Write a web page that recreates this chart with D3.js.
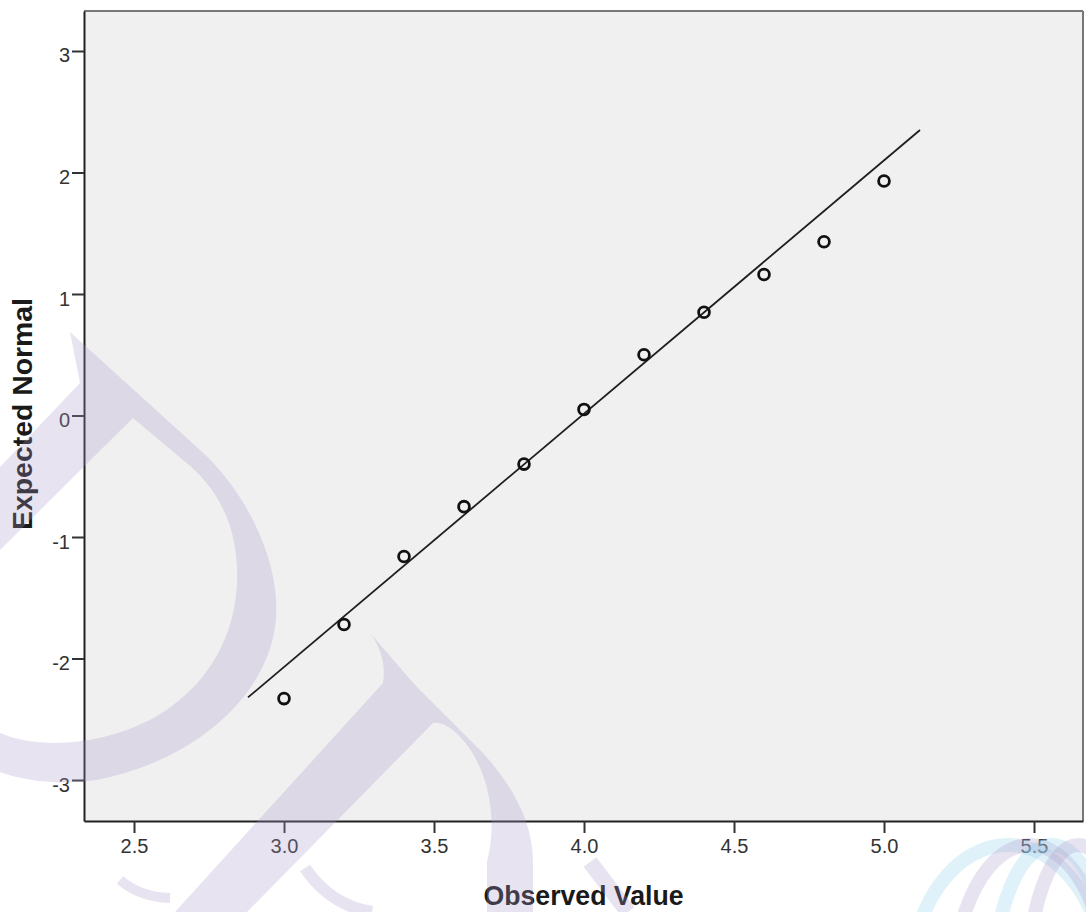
<!DOCTYPE html>
<html>
<head>
<meta charset="utf-8">
<script src="https://cdn.jsdelivr.net/npm/d3@7"></script>
<style>
  body { margin: 0; background: #ffffff; }
  svg { display: block; }
  .tickLabel { font-family: "Liberation Sans", Arial, sans-serif; font-size: 20px; fill: #333333; }
  .axisTitle { font-family: "Liberation Sans", Arial, sans-serif; font-size: 27px; font-weight: bold; fill: #1a1a1a; }
</style>
</head>
<body>
<div id="chart"></div>
<script>
//Normal Q-Q plot, SPSS style, drawn with D3
(function(){

  //pseudo-global data arrays
  var observedValues = [3.0, 3.2, 3.4, 3.6, 3.8, 4.0, 4.2, 4.4, 4.6, 4.8, 5.0]; // x of each point
  var expectedNormal = [-2.33, -1.72, -1.16, -0.75, -0.40, 0.05, 0.50, 0.85, 1.16, 1.43, 1.93]; // y of each point
  var refLineX = [2.88, 5.12]; // ends of the reference line
  var refLineY = [-2.32, 2.35];
  var xTicks = [2.5, 3.0, 3.5, 4.0, 4.5, 5.0, 5.5];
  var yTicks = [-3, -2, -1, 0, 1, 2, 3];
  var xDomain = [2.3333, 5.6633];
  var yDomain = [-3.3374, 3.3292];
  var xTitle = "Observed Value";
  var yTitle = "Expected Normal";

  window.onload = drawChart();

  function drawChart(){
    var width = 1086,
        height = 912;

    //plot frame
    var left = 84, right = 1083, top = 11, bottom = 821;

    var svg = d3.select("#chart")
      .append("svg")
      .attr("width", width)
      .attr("height", height);

    var x = d3.scaleLinear().domain(xDomain).range([left, right]);
    var y = d3.scaleLinear().domain(yDomain).range([bottom, top]);

    //plot background
    svg.append("rect")
      .attr("x", left)
      .attr("y", top)
      .attr("width", right - left)
      .attr("height", bottom - top)
      .attr("fill", "#f0f0f0");

    //frame: top and right lighter, left and bottom dark
    svg.append("line").attr("x1", left).attr("x2", right).attr("y1", top).attr("y2", top)
      .attr("stroke", "#777").attr("stroke-width", 2);
    svg.append("line").attr("x1", right).attr("x2", right).attr("y1", top).attr("y2", bottom)
      .attr("stroke", "#777").attr("stroke-width", 2);

    //x axis
    var xAxis = d3.axisBottom(x)
      .tickValues(xTicks)
      .tickFormat(d3.format(".1f"))
      .tickSizeInner(12)
      .tickSizeOuter(0)
      .tickPadding(6);
    var gx = svg.append("g")
      .attr("transform", "translate(0," + bottom + ")")
      .call(xAxis);
    gx.select(".domain").attr("stroke", "#222").attr("stroke-width", 2);
    gx.selectAll(".tick line").attr("stroke", "#333").attr("stroke-width", 2);
    gx.selectAll(".tick text")
      .attr("class", "tickLabel")
      .attr("font-family", null).attr("font-size", null)
      .attr("fill", "#333")
      .attr("dy", "0.72em");

    //y axis, plain hyphen for negatives like SPSS
    var yAxis = d3.axisLeft(y)
      .tickValues(yTicks)
      .tickFormat(function(d){ return String(d); })
      .tickSizeInner(12)
      .tickSizeOuter(0)
      .tickPadding(2);
    var gy = svg.append("g")
      .attr("transform", "translate(" + left + ",0)")
      .call(yAxis);
    gy.select(".domain").attr("stroke", "#222").attr("stroke-width", 2);
    gy.selectAll(".tick line").attr("stroke", "#333").attr("stroke-width", 2);
    gy.selectAll(".tick text")
      .attr("class", "tickLabel")
      .attr("font-family", null).attr("font-size", null)
      .attr("fill", "#333")
      .attr("dy", "0.55em");

    //reference line
    var lineData = refLineX.map(function(d, i){ return [d, refLineY[i]]; });
    svg.append("path")
      .datum(lineData)
      .attr("d", d3.line().x(function(d){ return x(d[0]); }).y(function(d){ return y(d[1]); }))
      .attr("fill", "none")
      .attr("stroke", "#1e1e1e")
      .attr("stroke-width", 1.8);

    //points
    var points = observedValues.map(function(d, i){ return {obs: d, exp: expectedNormal[i]}; });
    svg.selectAll(".point")
      .data(points)
      .enter()
      .append("circle")
      .attr("class", "point")
      .attr("cx", function(d){ return x(d.obs); })
      .attr("cy", function(d){ return y(d.exp); })
      .attr("r", 5.4)
      .attr("fill", "none")
      .attr("stroke", "#111")
      .attr("stroke-width", 2.8);

    //axis titles
    svg.append("text")
      .attr("class", "axisTitle")
      .attr("x", (left + right) / 2)
      .attr("y", 905)
      .attr("text-anchor", "middle")
      .attr("textLength", 200)
      .attr("lengthAdjust", "spacingAndGlyphs")
      .text(xTitle);

    svg.append("text")
      .attr("class", "axisTitle")
      .attr("transform", "translate(32,414) rotate(-90)")
      .attr("text-anchor", "middle")
      .attr("textLength", 232)
      .attr("lengthAdjust", "spacingAndGlyphs")
      .text(yTitle);

    drawWatermark(svg);
  }; //end of drawChart

  //faint logo watermark laid over the picture
  function drawWatermark(svg){
    var purple = "rgba(170,150,200,0.27)";
    var cyan = "rgba(150,210,235,0.30)";
    var wm = svg.append("g").attr("pointer-events", "none");

    // big "D" letter
    wm.append("path")
      .attr("d", "M70,332 L200,450 C245,490 280,560 276,617 C272,690 200,760 96,780 C60,786 20,780 0,772 L0,733 C40,750 100,745 150,720 C210,688 240,630 237,567 C235,520 215,485 183,460 L133,418 L0,550 L0,467 L80,383 Z")
      .attr("fill", purple);

    // "P"-like letter lower down
    wm.append("path")
      .attr("d", "M370,633 C385,650 400,668 417,687 L483,753 C512,785 533,822 533,862 L533,912 L487,912 L487,862 C497,822 490,782 472,752 C462,737 447,721 433,723 L247,912 L175,912 L383,683 C386,665 381,648 370,633 Z")
      .attr("fill", purple);

    // small tails
    wm.append("path")
      .attr("d", "M305,868 Q330,905 372,912")
      .attr("fill", "none").attr("stroke", purple).attr("stroke-width", 12);
    wm.append("path")
      .attr("d", "M590,862 L628,912")
      .attr("fill", "none").attr("stroke", purple).attr("stroke-width", 16);
    wm.append("path")
      .attr("d", "M120,880 Q140,897 170,898")
      .attr("fill", "none").attr("stroke", purple).attr("stroke-width", 10);

    // globe in the bottom right corner
    var rings = [
      {cx: 1008, rx: 98, c: cyan},
      {cx: 1030, rx: 76, c: purple},
      {cx: 1052, rx: 58, c: cyan},
      {cx: 1078, rx: 50, c: purple}
    ];
    wm.selectAll(".ring")
      .data(rings)
      .enter()
      .append("ellipse")
      .attr("class", "ring")
      .attr("cx", function(d){ return d.cx; })
      .attr("cy", 985)
      .attr("rx", function(d){ return d.rx; })
      .attr("ry", 140)
      .attr("fill", "none")
      .attr("stroke", function(d){ return d.c; })
      .attr("stroke-width", 14);
  }; //end of drawWatermark

})();
</script>
</body>
</html>
